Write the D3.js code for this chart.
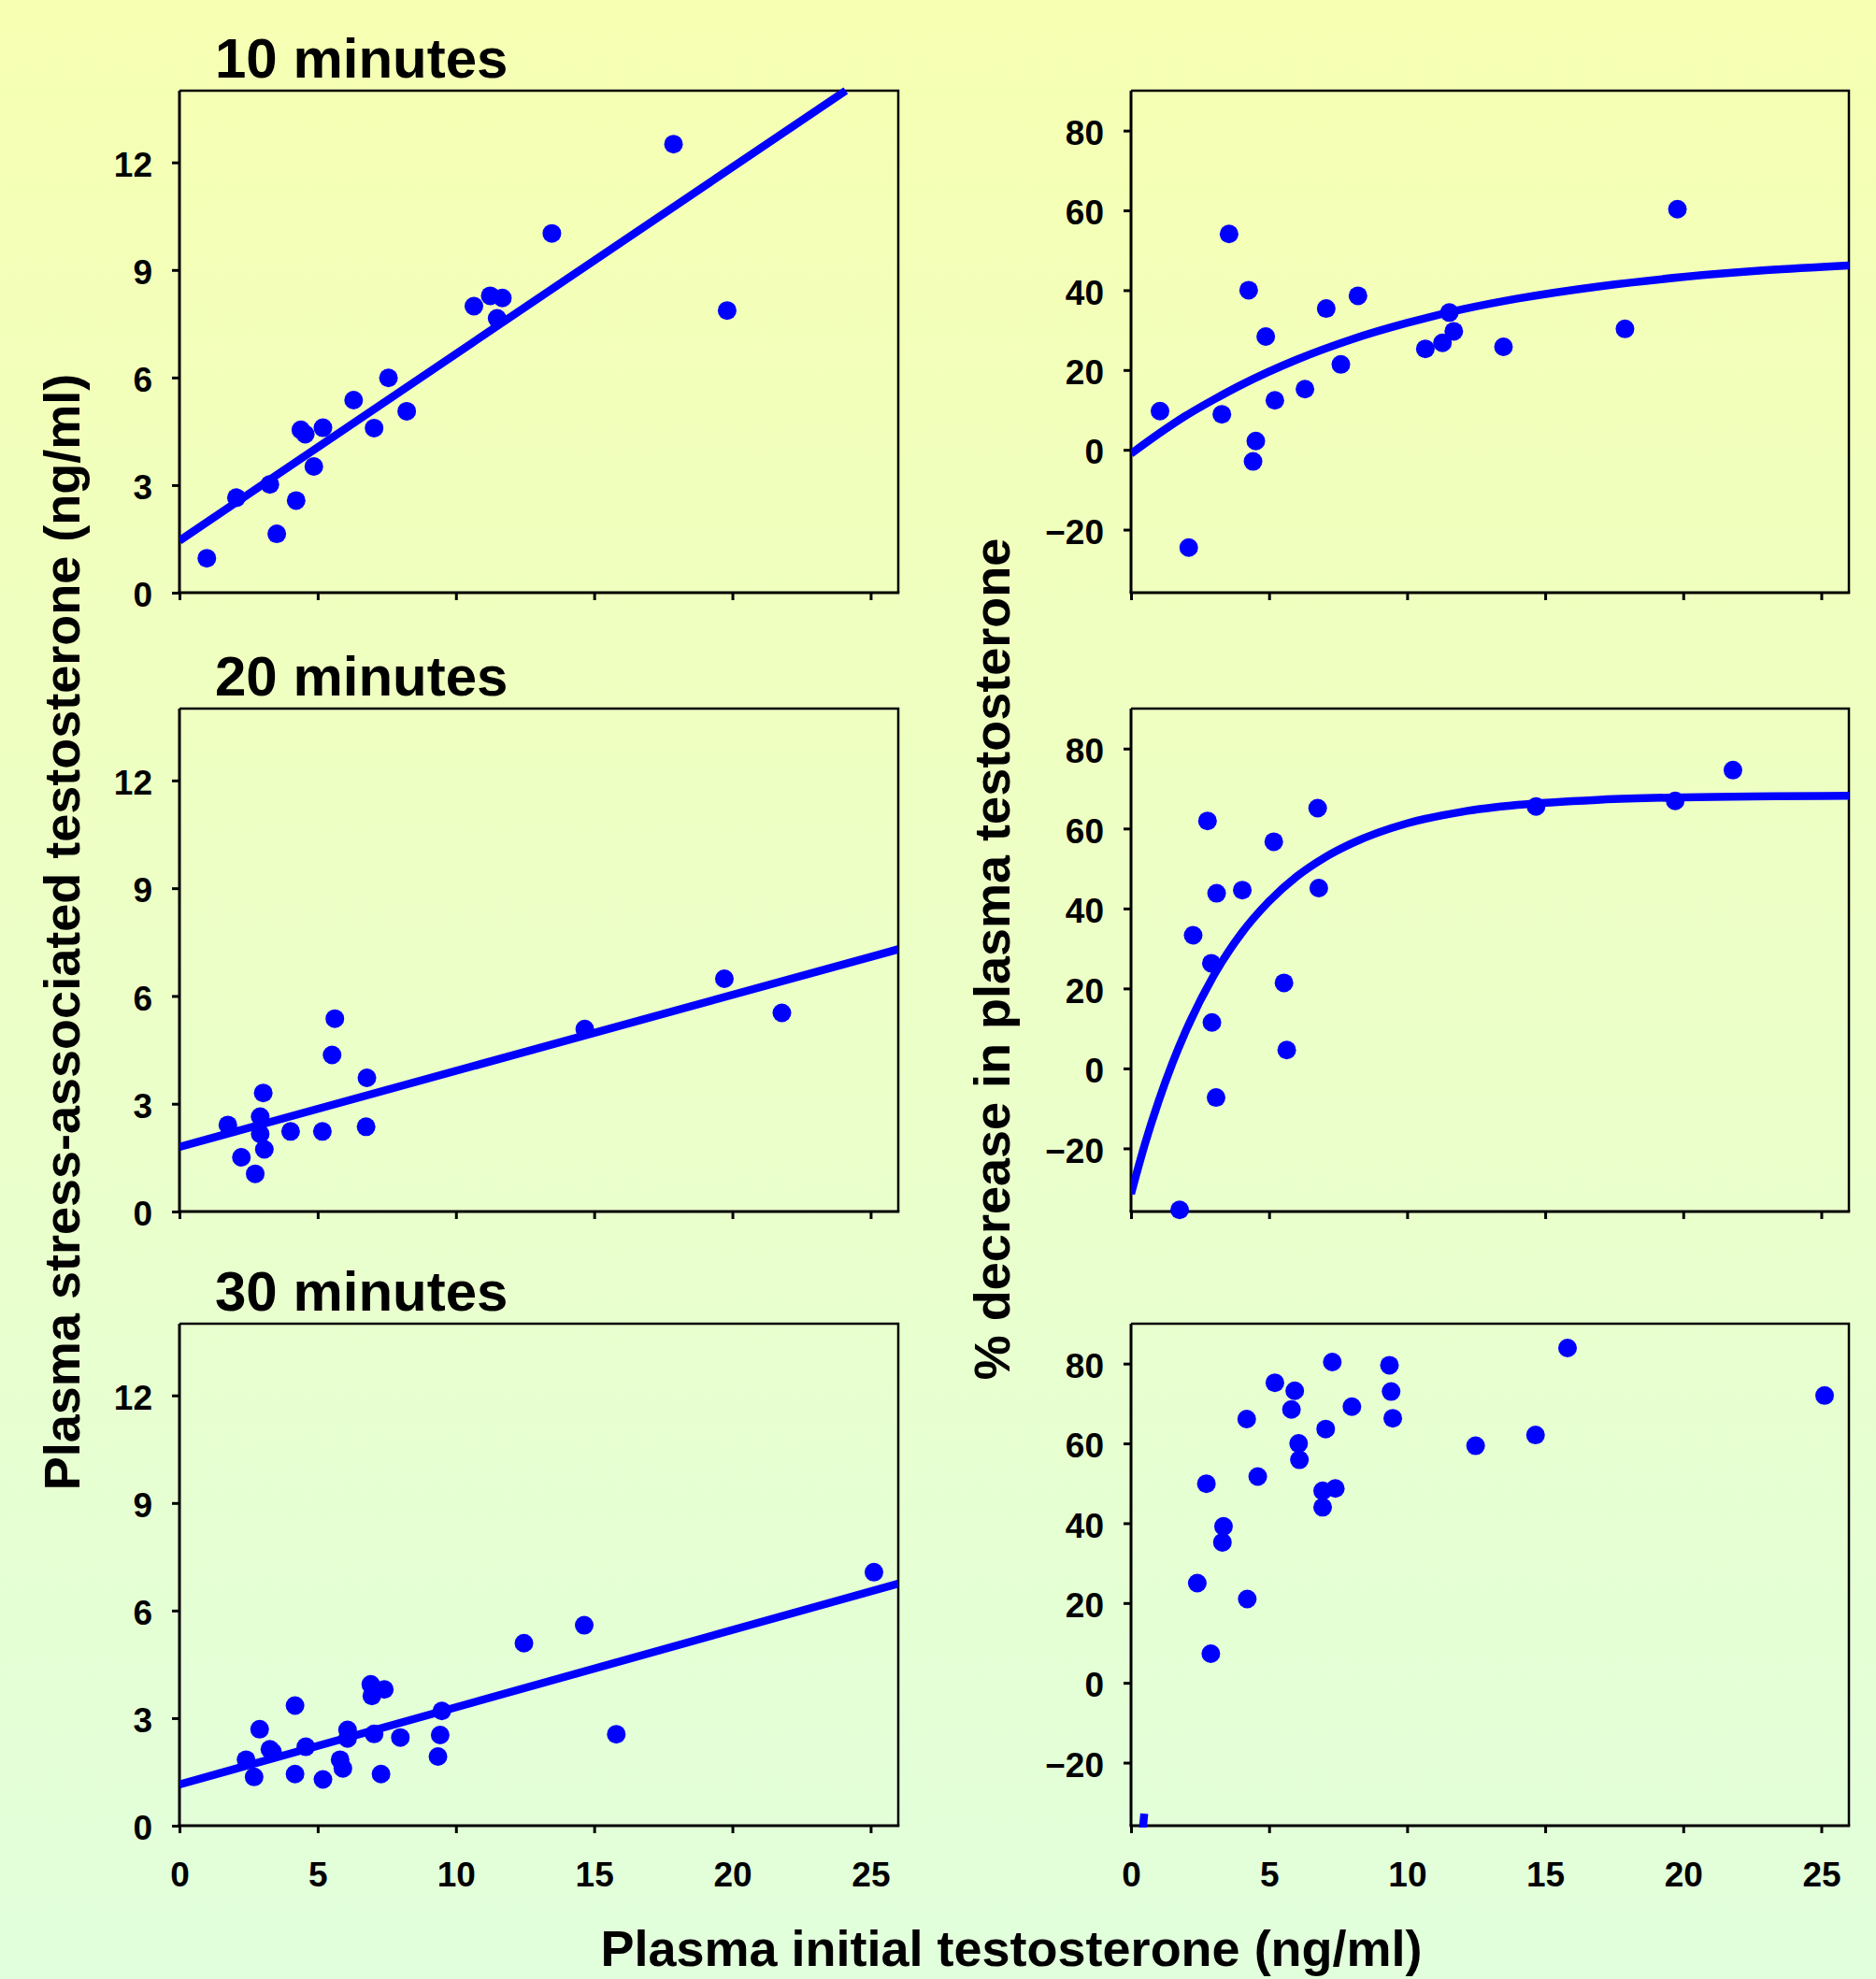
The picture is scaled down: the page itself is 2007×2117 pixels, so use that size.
<!DOCTYPE html>
<html>
<head>
<meta charset="utf-8">
<script src="https://cdn.jsdelivr.net/npm/d3@7/dist/d3.min.js"></script>
<style>
  html, body { margin: 0; padding: 0; background: #eeffc4; }
  svg { display: block; }
  text { font-family: "Liberation Sans", Arial, sans-serif; font-weight: bold; fill: #000; }
</style>
</head>
<body>
<script>
// ---------------- DATA ----------------
const xTicks = [0, 5, 10, 15, 20, 25];
const leftYTicks = [0, 3, 6, 9, 12];
const rightYTicks = [-20, 0, 20, 40, 60, 80];
const panelTitles = ["10 minutes", "20 minutes", "30 minutes"];
const xTitle = "Plasma initial testosterone (ng/ml)";
const leftYTitle = "Plasma stress-associated testosterone (ng/ml)";
const rightYTitle = "% decrease in plasma testosterone";

// 10 minutes: stress-associated testosterone vs initial
const t10Initial = [0.99, 2.06, 3.27, 3.52, 4.22, 4.39, 4.55, 4.86, 5.19, 6.30, 7.04, 7.56, 8.22, 10.65, 11.24, 11.68, 11.49, 13.47, 17.87, 19.81];
const t10Stress  = [0.96, 2.65, 3.02, 1.64, 2.57, 4.54, 4.42, 3.52, 4.60, 5.37, 4.59, 5.99, 5.06, 7.99, 8.28, 8.22, 7.65, 10.02, 12.51, 7.87];
const t10FitX = [0, 24.1];
const t10FitY = [1.45, 14.0];

// 10 minutes: % decrease vs initial
const p10Initial  = [1.05, 2.09, 3.29, 3.55, 4.26, 4.52, 4.42, 4.88, 5.21, 6.30, 7.07, 7.60, 8.22, 10.66, 11.28, 11.53, 11.69, 13.49, 17.89, 19.79];
const p10Decrease = [9.7, -24.5, 8.9, 54.1, 40.0, 2.2, -2.9, 28.4, 12.4, 15.2, 35.4, 21.4, 38.6, 25.3, 26.8, 34.4, 29.7, 25.8, 30.3, 60.3];
const p10CurveX = [0, 1, 2, 3, 4, 6, 8, 10, 12, 14, 17, 20, 23, 26];
const p10CurveY = [-1.0, 4.0, 8.6, 12.6, 16.3, 22.6, 27.7, 31.8, 35.2, 37.9, 41.0, 43.3, 45.0, 46.2];

// 20 minutes
const t20Initial = [1.75, 2.24, 2.74, 2.92, 2.92, 3.03, 3.07, 4.02, 5.17, 5.62, 5.52, 6.78, 6.75, 14.66, 19.71, 21.79];
const t20Stress  = [2.41, 1.51, 1.05, 2.64, 2.16, 3.30, 1.73, 2.23, 2.23, 5.37, 4.36, 3.72, 2.36, 5.08, 6.48, 5.53];
const t20FitX = [0, 26];
const t20FitY = [1.8, 7.3];

const p20Initial  = [1.76, 2.77, 2.25, 2.91, 3.10, 2.93, 3.08, 4.03, 5.17, 5.54, 5.64, 6.76, 6.80, 14.67, 19.71, 21.80];
const p20Decrease = [-35.4, 61.9, 33.3, 26.3, 43.8, 11.5, -7.3, 44.6, 56.7, 21.4, 4.6, 65.1, 45.1, 65.5, 66.9, 74.6];
const p20CurveX = [0, 0.5, 1, 1.5, 2, 3, 4, 5, 6, 7, 8, 10, 12, 14, 17, 20, 26];
const p20CurveY = [-31.4, -19.0, -8.2, 1.3, 9.6, 23.3, 33.8, 41.8, 48.0, 52.7, 56.3, 61.3, 64.2, 65.9, 67.2, 67.8, 68.2];

// 30 minutes
const t30Initial = [2.41, 2.70, 2.90, 3.27, 3.37, 4.18, 4.18, 4.57, 5.19, 5.81, 5.91, 6.08, 6.08, 6.92, 6.96, 7.04, 7.41, 7.29, 7.99, 9.49, 9.43, 9.35, 12.46, 14.64, 15.80, 25.12];
const t30Stress  = [1.84, 1.36, 2.69, 2.13, 2.05, 3.35, 1.44, 2.20, 1.29, 1.84, 1.60, 2.67, 2.43, 3.94, 3.62, 2.56, 3.80, 1.44, 2.46, 3.20, 2.53, 1.93, 5.09, 5.59, 2.55, 7.07];
const t30FitX = [0, 26];
const t30FitY = [1.15, 6.75];

const p30Initial  = [2.40, 2.73, 2.89, 3.31, 3.35, 4.19, 4.21, 4.59, 5.21, 5.81, 5.93, 6.07, 6.10, 6.94, 6.94, 7.05, 7.29, 7.40, 8.00, 9.36, 9.42, 9.48, 12.48, 14.65, 15.81, 25.12];
const p30Decrease = [25.0, 49.9, 7.3, 35.2, 39.2, 66.1, 21.0, 51.7, 75.2, 68.5, 73.2, 60.0, 55.9, 44.0, 48.1, 63.6, 80.4, 48.7, 69.2, 79.6, 73.0, 66.3, 59.4, 62.1, 83.9, 72.0];
const p30CurveX = [0.42, 0.48];
const p30CurveY = [-37.0, -32.8];

// ---------------- LAYOUT ----------------
const W = 2007, H = 2117;
const colX = [{x0: 192, x1: 961}, {x0: 1210, x1: 1978}];
const rowY = [{y0: 97, y1: 634}, {y0: 758, y1: 1296}, {y0: 1416, y1: 1953}];
const xDomain = [0, 26];
const leftYDomain = [0, 14];
const rightYDomain = [-35.8, 90];
const BLUE = "#0000ff";

const svg = d3.select("body").append("svg").attr("width", W).attr("height", H);
const defs = svg.append("defs");
const grad = defs.append("linearGradient").attr("id", "bg").attr("x1", 0).attr("y1", 0).attr("x2", 0).attr("y2", 1);
grad.append("stop").attr("offset", "0%").attr("stop-color", "#f6ffb2");
grad.append("stop").attr("offset", "100%").attr("stop-color", "#e1ffdc");
svg.append("rect").attr("width", W).attr("height", H).attr("fill", "url(#bg)");

const panels = [
  {row: 0, col: 0, xs: t10Initial, ys: t10Stress, fx: t10FitX, fy: t10FitY, title: panelTitles[0]},
  {row: 0, col: 1, xs: p10Initial, ys: p10Decrease, fx: p10CurveX, fy: p10CurveY},
  {row: 1, col: 0, xs: t20Initial, ys: t20Stress, fx: t20FitX, fy: t20FitY, title: panelTitles[1]},
  {row: 1, col: 1, xs: p20Initial, ys: p20Decrease, fx: p20CurveX, fy: p20CurveY},
  {row: 2, col: 0, xs: t30Initial, ys: t30Stress, fx: t30FitX, fy: t30FitY, title: panelTitles[2]},
  {row: 2, col: 1, xs: p30Initial, ys: p30Decrease, fx: p30CurveX, fy: p30CurveY},
];

panels.forEach((p, i) => {
  const c = colX[p.col], r = rowY[p.row];
  const x = d3.scaleLinear().domain(xDomain).range([c.x0, c.x1]);
  const y = d3.scaleLinear().domain(p.col === 0 ? leftYDomain : rightYDomain).range([r.y1, r.y0]);
  const yTicks = p.col === 0 ? leftYTicks : rightYTicks;
  const g = svg.append("g");

  // clip for fit lines
  defs.append("clipPath").attr("id", "clip" + i)
    .append("rect").attr("x", c.x0).attr("y", r.y0 - 4).attr("width", c.x1 - c.x0).attr("height", r.y1 - r.y0 + 6);

  // frame top/right
  g.append("path")
    .attr("d", `M${c.x0},${r.y0}H${c.x1}V${r.y1}`)
    .attr("fill", "none").attr("stroke", "#000").attr("stroke-width", 2.5);

  // y axis
  const ya = g.append("g").attr("transform", `translate(${c.x0},0)`)
    .call(d3.axisLeft(y).tickValues(yTicks).tickSize(8).tickPadding(21).tickFormat(d3.format("d")));
  ya.select(".domain").remove();
  ya.selectAll(".tick line").attr("stroke", "#000").attr("stroke-width", 3);
  ya.selectAll(".tick text").attr("dy", "0.40em").style("font-size", "37px")
    .style("font-family", '"Liberation Sans", Arial, sans-serif').style("font-weight", "bold").attr("fill", "#000");
  g.append("line").attr("x1", c.x0).attr("x2", c.x0).attr("y1", r.y0).attr("y2", r.y1)
    .attr("stroke", "#000").attr("stroke-width", 3);

  // x axis
  const xa = g.append("g").attr("transform", `translate(0,${r.y1})`)
    .call(d3.axisBottom(x).tickValues(xTicks).tickSize(8).tickFormat(p.row === 2 ? d3.format("d") : () => ""));
  xa.select(".domain").remove();
  xa.selectAll(".tick line").attr("stroke", "#000").attr("stroke-width", 3);
  xa.selectAll(".tick text").attr("y", 65).attr("dy", 0).style("font-size", "37px")
    .style("font-family", '"Liberation Sans", Arial, sans-serif').style("font-weight", "bold").attr("fill", "#000");
  g.append("line").attr("x1", c.x0 - 1.5).attr("x2", c.x1 + 1.25).attr("y1", r.y1).attr("y2", r.y1)
    .attr("stroke", "#000").attr("stroke-width", 3);

  // fit line / curve
  const fitData = p.fx.map((v, k) => [v, p.fy[k]]);
  g.append("path")
    .datum(fitData)
    .attr("clip-path", `url(#clip${i})`)
    .attr("d", d3.line().x(d => x(d[0])).y(d => y(d[1])).curve(d3.curveMonotoneX))
    .attr("fill", "none").attr("stroke", BLUE).attr("stroke-width", 8.5).attr("stroke-linecap", "butt");

  // points
  g.append("g").selectAll("circle")
    .data(p.xs.map((v, k) => [v, p.ys[k]]))
    .join("circle")
    .attr("cx", d => x(d[0])).attr("cy", d => y(d[1])).attr("r", 10)
    .attr("fill", BLUE);

  if (p.title) {
    svg.append("text").attr("x", 230).attr("y", r.y0 - 14)
      .style("font-size", "60px").text(p.title);
  }
});

// axis titles
svg.append("text")
  .attr("transform", "translate(85,997) rotate(-90)")
  .attr("text-anchor", "middle").style("font-size", "54px").text(leftYTitle);
svg.append("text")
  .attr("transform", "translate(1080,1026) rotate(-90)")
  .attr("text-anchor", "middle").style("font-size", "54px").text(rightYTitle);
svg.append("text")
  .attr("x", 1082).attr("y", 2103)
  .attr("text-anchor", "middle").style("font-size", "54px").text(xTitle);
</script>
</body>
</html>
